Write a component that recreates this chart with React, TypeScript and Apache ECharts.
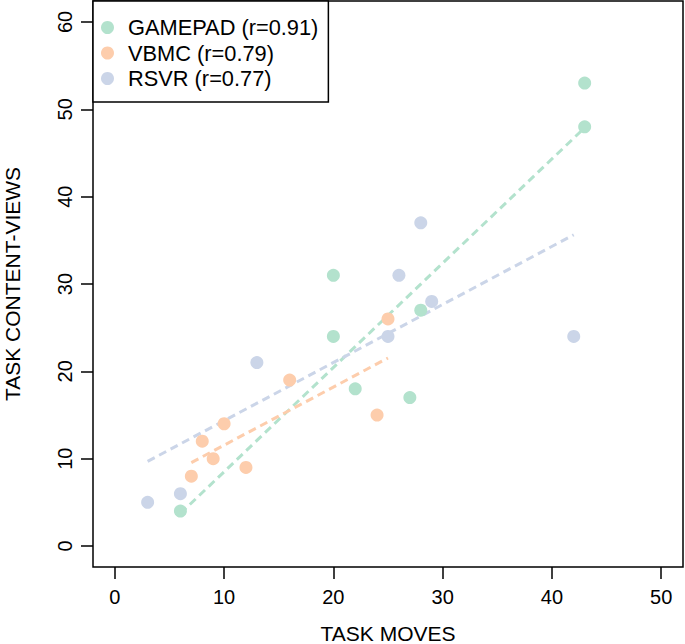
import React, { useEffect, useRef } from "react";
import * as echarts from "echarts";

const seriesNames = ["GAMEPAD (r=0.91)", "VBMC (r=0.79)", "RSVR (r=0.77)"];
const seriesColors = ["#B3E2CD", "#FDCDAC", "#CBD5E8"];

const gamepadX = [6, 20, 20, 22, 27, 28, 43, 43];
const gamepadY = [4, 31, 24, 18, 17, 27, 53, 48];
const vbmcX = [7, 8, 9, 10, 12, 16, 24, 25];
const vbmcY = [8, 12, 10, 14, 9, 19, 15, 26];
const rsvrX = [3, 6, 13, 25, 26, 28, 29, 42];
const rsvrY = [5, 6, 21, 24, 31, 37, 28, 24];

const xTicks = [0, 10, 20, 30, 40, 50];
const yTicks = [0, 10, 20, 30, 40, 50, 60];

const FONT = "'Liberation Sans', Arial, Helvetica, sans-serif";

function fitLine(xs: number[], ys: number[]): number[][] {
  const n = xs.length;
  const mx = xs.reduce((a, b) => a + b, 0) / n;
  const my = ys.reduce((a, b) => a + b, 0) / n;
  let sxx = 0;
  let sxy = 0;
  for (let i = 0; i < n; i++) {
    sxx += (xs[i] - mx) * (xs[i] - mx);
    sxy += (xs[i] - mx) * (ys[i] - my);
  }
  const b = sxy / sxx;
  const a = my - b * mx;
  const x0 = Math.min(...xs);
  const x1 = Math.max(...xs);
  return [
    [x0, a + b * x0],
    [x1, a + b * x1],
  ];
}

export default function App() {
  const ref = useRef<HTMLDivElement>(null);
  useEffect(() => {
    document.body.style.margin = "0";
    if (!ref.current) return;
    const chart = echarts.init(ref.current, null, { renderer: "svg" });
    const groups = [
      [gamepadX, gamepadY],
      [vbmcX, vbmcY],
      [rsvrX, rsvrY],
    ];
    const lineSeries = groups.map((g, i) => ({
      type: "line",
      name: seriesNames[i] + " fit",
      data: fitLine(g[0], g[1]),
      symbol: "none",
      silent: true,
      z: 2,
      lineStyle: { color: seriesColors[i], width: 3, type: [8, 5] },
    }));
    const scatterSeries = groups.map((g, i) => ({
      type: "scatter",
      name: seriesNames[i],
      data: g[0].map((x, j) => [x, g[1][j]]),
      symbol: "circle",
      symbolSize: 13,
      z: 3,
      itemStyle: { color: seriesColors[i], opacity: 1 },
    }));
    chart.setOption({
      animation: false,
      backgroundColor: "#fff",
      textStyle: { fontFamily: FONT },
      grid: {
        left: 93,
        right: 2,
        top: 1,
        bottom: 77,
        containLabel: false,
        outerBoundsMode: "none",
        show: true,
        borderColor: "#000",
        borderWidth: 1.5,
        backgroundColor: "transparent",
      },
      legend: {
        data: seriesNames,
        orient: "vertical",
        left: 93,
        top: 1,
        icon: "circle",
        itemWidth: 31,
        itemHeight: 13,
        itemGap: 3.5,
        padding: [15.5, 10, 12.5, 8],
        borderColor: "#000",
        borderWidth: 1.5,
        backgroundColor: "#fff",
        textStyle: { fontSize: 21.8, color: "#000", fontFamily: FONT, lineHeight: 21 },
      },
      xAxis: {
        type: "value",
        min: -2,
        max: 52,
        name: "TASK MOVES",
        nameLocation: "middle",
        nameGap: 56,
        nameTextStyle: { fontSize: 21, color: "#000", fontFamily: FONT, lineHeight: 21 },
        axisLine: { show: false, onZero: false },
        axisTick: { show: true, length: 12, customValues: xTicks, lineStyle: { color: "#000", width: 1.5 } },
        axisLabel: { customValues: xTicks, margin: 20, fontSize: 20, color: "#000", fontFamily: FONT },
        splitLine: { show: false },
      },
      yAxis: {
        type: "value",
        min: -2.4,
        max: 62.4,
        name: "TASK CONTENT-VIEWS",
        nameLocation: "middle",
        nameGap: 70,
        nameTextStyle: { fontSize: 21, color: "#000", fontFamily: FONT, lineHeight: 21 },
        axisLine: { show: false, onZero: false },
        axisTick: { show: true, length: 12, customValues: yTicks, lineStyle: { color: "#000", width: 1.5 } },
        axisLabel: { customValues: yTicks, rotate: 90, margin: 18, fontSize: 20, color: "#000", fontFamily: FONT },
        splitLine: { show: false },
      },
      series: [...lineSeries, ...scatterSeries],
    });
    return () => chart.dispose();
  }, []);
  return <div ref={ref} style={{ width: 685, height: 644 }} />;
}
